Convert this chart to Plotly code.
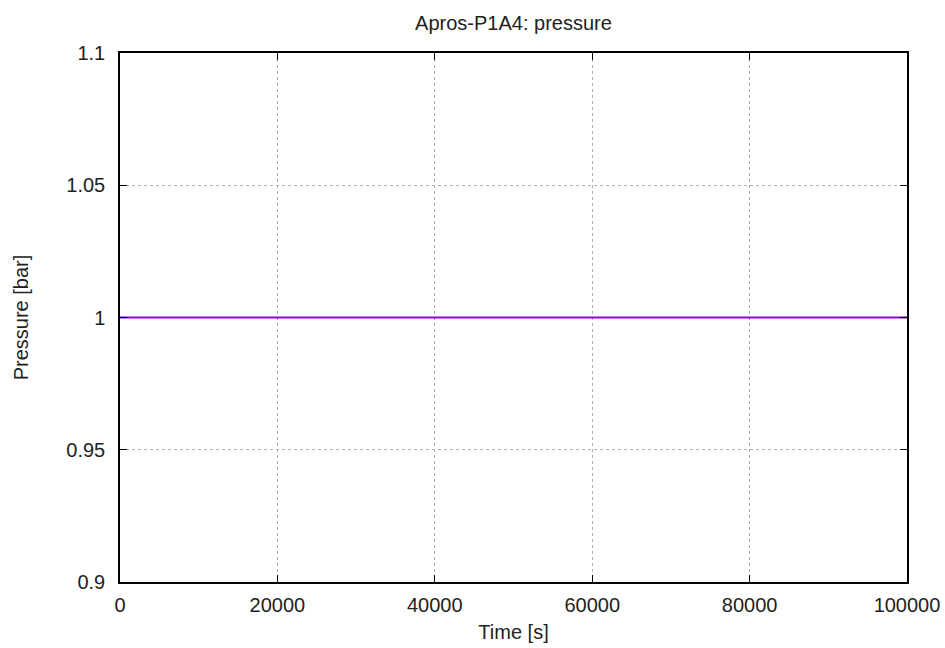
import plotly.graph_objects as go

time_s = [0, 10000, 20000, 30000, 40000, 50000, 60000, 70000, 80000, 90000, 100000]
pressure_bar = [1.0, 1.0, 1.0, 1.0, 1.0, 1.0, 1.0, 1.0, 1.0, 1.0, 1.0]
x_ticks = [0, 20000, 40000, 60000, 80000, 100000]
y_ticks = [0.9, 0.95, 1.0, 1.05, 1.1]
y_tick_text = ["0.9", "0.95", "1", "1.05", "1.1"]

FONT = "Liberation Sans, Arial, sans-serif"
TXT = "#222222"

fig = go.Figure()
fig.add_trace(go.Scatter(x=time_s, y=pressure_bar, mode="lines",
                         line=dict(color="#9400D3", width=2.2), showlegend=False))

axis_common = dict(showline=True, linecolor="black", linewidth=1.5, mirror="ticks",
                   ticks="inside", ticklen=7, tickcolor="black", tickwidth=1,
                   showgrid=True, gridcolor="#b0b0b0", griddash="dot", gridwidth=1,
                   zeroline=False, automargin=False,
                   tickfont=dict(family=FONT, size=20, color=TXT))

fig.update_xaxes(range=[0, 100000], tickvals=x_ticks, ticktext=[str(v) for v in x_ticks],
                 ticklabelstandoff=4,
                 title=dict(text="Time [s]", font=dict(family=FONT, size=20, color=TXT), standoff=10),
                 **axis_common)
fig.update_yaxes(range=[0.9, 1.1], tickvals=y_ticks, ticktext=y_tick_text,
                 ticklabelstandoff=9,
                 title=dict(text="Pressure [bar]", font=dict(family=FONT, size=20, color=TXT), standoff=32),
                 **axis_common)

fig.update_layout(
    width=945, height=648,
    margin=dict(l=120, r=38, t=53, b=66),
    plot_bgcolor="white", paper_bgcolor="white",
    title=dict(text="Apros-P1A4: pressure", x=0.5, xref="paper", xanchor="center",
               y=1 - 23 / 648, yanchor="middle",
               font=dict(family=FONT, size=20, color=TXT)),
)

fig.write_html("out.html", config={"displayModeBar": False},
               post_script="document.body.style.margin='0';document.body.style.overflow='hidden';")
